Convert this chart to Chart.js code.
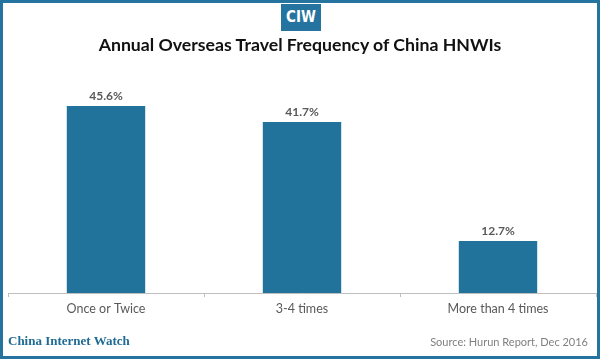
<!DOCTYPE html>
<html>
<head>
<meta charset="utf-8">
<script src="https://cdn.jsdelivr.net/npm/chart.js@4"></script>
<style>
  html, body { margin: 0; padding: 0; background: #fff; }
  #wrap { position: relative; width: 600px; height: 359px; overflow: hidden; }
  #frame { position: absolute; left: 0; top: 0; width: 594px; height: 353px; border: 3px solid #2574a0; pointer-events: none; }
  #logo { position: absolute; left: 281px; top: 4px; width: 40px; height: 27px; background: #2574a0; color: #fff;
          font: bold 15px "Liberation Sans Narrow", "DejaVu Sans Condensed", sans-serif; text-align: center; line-height: 27px; }
  #title { position: absolute; left: 0; width: 600px; top: 34px; text-align: center; color: #111;
           font: bold 17.7px "Lato", sans-serif; }
  #brand { position: absolute; left: 8px; top: 333px; color: #1f6b94; font: bold 13px "Liberation Serif", serif; }
  #source { position: absolute; right: 12px; top: 335px; color: #7f7f7f; font: 11px "Lato", sans-serif; }
  canvas { position: absolute; left: 0; top: 0; }
</style>
</head>
<body>
<div id="wrap">
  <canvas id="travelChart" width="600" height="359"></canvas>
  <div id="frame"></div>
  <div id="logo">CIW</div>
  <div id="title">Annual Overseas Travel Frequency of China HNWIs</div>
  <div id="brand">China Internet Watch</div>
  <div id="source">Source: Hurun Report, Dec 2016</div>
</div>
<script>
const categories = ["Once or Twice", "3-4 times", "More than 4 times"];
const shares = [45.6, 41.7, 12.7];

// percent labels above each bar
const valueLabels = {
    id: "valueLabels",
    afterDatasetsDraw(chart) {
        const ctx = chart.ctx;
        const meta = chart.getDatasetMeta(0);
        ctx.save();
        ctx.fillStyle = "#595959";
        ctx.font = "bold 12px Lato, sans-serif";
        ctx.textAlign = "center";
        ctx.textBaseline = "bottom";
        meta.data.forEach((bar, i) => {
            ctx.fillText(shares[i].toFixed(1) + "%", bar.x, bar.y - 4);
        });
        ctx.restore();
    }
};

const travelData = {
    labels: categories,
    datasets: [
        {
            label: "Share of HNWIs",
            data: shares,
            backgroundColor: "#21739b",
            categoryPercentage: 1,
            barPercentage: 0.4,
        },
    ],
};

const travelConfig = {
    type: "bar",
    data: travelData,
    options: {
        responsive: false,
        animation: false,
        layout: { padding: { left: 8, right: 4, top: 88, bottom: 0 } },
        plugins: {
            legend: { display: false },
            tooltip: { enabled: false },
        },
        scales: {
            x: {
                afterFit(scale) { scale.height = 66; },
                border: { color: "#bfbfbf", width: 1 },
                grid: { offset: true, drawOnChartArea: false, tickLength: 4, color: "#bfbfbf" },
                ticks: { color: "#595959", padding: 4, font: { family: "Lato", size: 12.5 } },
            },
            y: {
                display: false,
                min: 0,
                max: 50,
            },
        },
    },
    plugins: [valueLabels],
};

const travelChart = new Chart(
    document.getElementById("travelChart"),
    travelConfig);
</script>
</body>
</html>
